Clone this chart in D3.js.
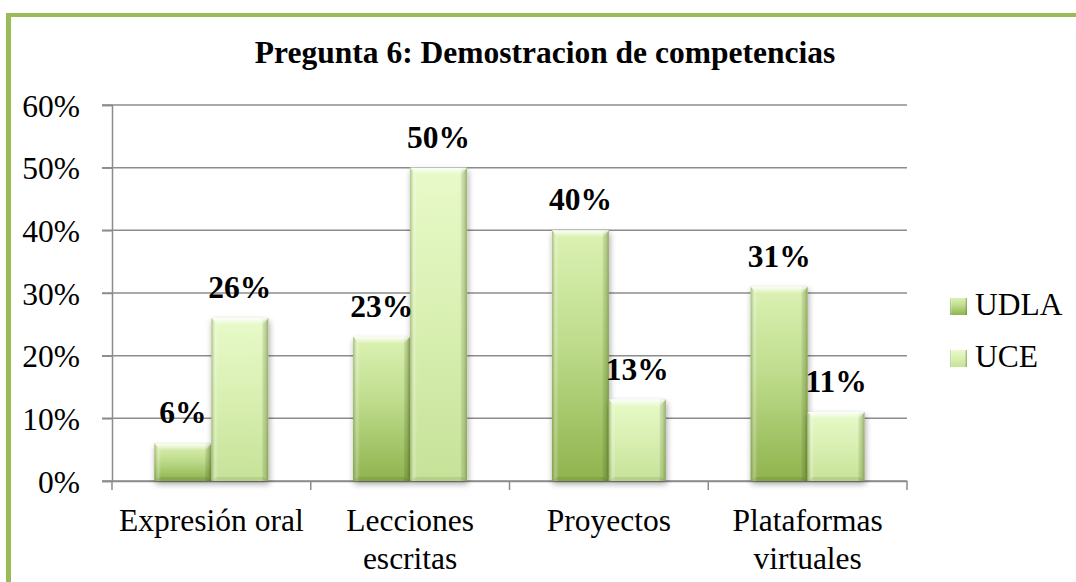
<!DOCTYPE html>
<html>
<head>
<meta charset="utf-8">
<script src="https://cdn.jsdelivr.net/npm/d3@7"></script>
<style>
  html, body { margin: 0; padding: 0; background: #fff; overflow: hidden; }
  svg { display: block; font-family: "Liberation Serif", "Times New Roman", serif; }
</style>
</head>
<body>
<svg id="chart" width="1076" height="582"></svg>
<script>
// data
const categories = ["Expresión oral", "Lecciones\nescritas", "Proyectos", "Plataformas\nvirtuales"];
const seriesNames = ["UDLA", "UCE"];
const udla = [0.06, 0.23, 0.40, 0.31];
const uce = [0.26, 0.50, 0.13, 0.11];
const yTicks = [0, 0.1, 0.2, 0.3, 0.4, 0.5, 0.6];
const title = "Pregunta 6: Demostracion de competencias";

const svg = d3.select("#chart");
const width = 1076;
const height = 582;
const plot = { left: 112, right: 907, top: 105, bottom: 481 };
const gridColor = "#8c8c8c";
const serif = "'Liberation Serif', 'Times New Roman', serif";
const fontSize = 31.5;

const defs = svg.append("defs");

function vGrad(id, stops) {
	const g = defs.append("linearGradient").attr("id", id)
		.attr("x1", 0).attr("y1", 0).attr("x2", 0).attr("y2", 1);
	stops.forEach(s => g.append("stop").attr("offset", s[0]).attr("stop-color", s[1]).attr("stop-opacity", s[2] == null ? 1 : s[2]));
}
function hGrad(id, stops) {
	const g = defs.append("linearGradient").attr("id", id)
		.attr("x1", 0).attr("y1", 0).attr("x2", 1).attr("y2", 0);
	stops.forEach(s => g.append("stop").attr("offset", s[0]).attr("stop-color", s[1]).attr("stop-opacity", s[2] == null ? 1 : s[2]));
}
vGrad("fillUDLA", [[0, "#dcf2b4"], [0.45, "#bedc8c"], [1, "#90b34d"]]);
vGrad("fillUCE", [[0, "#e8fac9"], [0.5, "#d8efb1"], [1, "#c6e298"]]);
hGrad("sides", [[0, "#5f7d2a", 0.45], [0.07, "#ffffff", 0.25], [0.12, "#ffffff", 0], [0.88, "#000000", 0], [0.94, "#55721f", 0.25], [1, "#4a6419", 0.5]]);
vGrad("topHi", [[0, "#ffffff", 0.9], [1, "#ffffff", 0]]);

const shadow = defs.append("filter").attr("id", "shadow")
	.attr("x", "-20%").attr("y", "-10%").attr("width", "140%").attr("height", "130%");
shadow.append("feGaussianBlur").attr("in", "SourceAlpha").attr("stdDeviation", 3);
shadow.append("feOffset").attr("dx", 1).attr("dy", 3).attr("result", "b");
shadow.append("feComponentTransfer").append("feFuncA").attr("type", "linear").attr("slope", 0.35);
const merge = shadow.append("feMerge");
merge.append("feMergeNode");
merge.append("feMergeNode").attr("in", "SourceGraphic");

// frame (only top and left edges are inside the picture)
svg.append("rect").attr("x", 6).attr("y", 13).attr("width", width).attr("height", 4)
	.attr("fill", "#9bbb59");
svg.append("rect").attr("x", 6).attr("y", 13).attr("width", 5).attr("height", height)
	.attr("fill", "#9bbb59");

svg.append("text")
	.attr("x", 545).attr("y", 63)
	.attr("text-anchor", "middle")
	.attr("font-family", serif)
	.attr("font-size", fontSize).attr("font-weight", "bold")
	.text(title);

const x = d3.scaleBand().domain(categories).range([plot.left, plot.right]).paddingInner(0).paddingOuter(0);
const x1 = d3.scaleBand().domain(seriesNames).range([0, x.bandwidth()]).paddingInner(0).paddingOuter(0.744);
const y = d3.scaleLinear().domain([0, 0.6]).range([plot.bottom, plot.top]);

// gridlines
svg.append("g").selectAll("line").data(yTicks).join("line")
	.attr("x1", plot.left - 10).attr("x2", plot.right)
	.attr("y1", d => y(d)).attr("y2", d => y(d))
	.attr("stroke", gridColor).attr("stroke-width", 1.5);

// y axis
const yAxis = svg.append("g").attr("transform", `translate(${plot.left},0)`)
	.call(d3.axisLeft(y).tickValues(yTicks).tickFormat(d3.format(".0%")).tickSize(10).tickPadding(22));
yAxis.attr("font-family", serif);
yAxis.select(".domain").attr("stroke", gridColor).attr("stroke-width", 1.5);
yAxis.selectAll(".tick line").attr("stroke", gridColor).attr("stroke-width", 1.5);
yAxis.selectAll(".tick text").attr("font-size", fontSize).attr("font-family", serif)
	.attr("fill", "#000").attr("dy", "0.35em");

// x axis
const xAxis = svg.append("g").attr("transform", `translate(0,${plot.bottom})`)
	.call(d3.axisBottom(x).tickSize(0).tickFormat(""));
xAxis.select(".domain").attr("stroke", gridColor).attr("stroke-width", 1.5);
xAxis.append("g").selectAll("line").data(d3.range(categories.length + 1)).join("line")
	.attr("x1", i => plot.left + i * x.step()).attr("x2", i => plot.left + i * x.step())
	.attr("y1", 0).attr("y2", 9)
	.attr("stroke", gridColor).attr("stroke-width", 1.5);

const catLabels = svg.append("g").selectAll("text").data(categories).join("text")
	.attr("x", d => x(d) + x.bandwidth() / 2)
	.attr("y", plot.bottom + 50)
	.attr("text-anchor", "middle")
	.attr("font-family", serif)
	.attr("font-size", fontSize);
catLabels.each(function (d) {
	const t = d3.select(this);
	d.split("\n").forEach((line, i) => {
		t.append("tspan").attr("x", x(d) + x.bandwidth() / 2).attr("dy", i === 0 ? 0 : 38).text(line);
	});
});

// bars
const values = { UDLA: udla, UCE: uce };
const rows = [];
categories.forEach((c, i) => seriesNames.forEach(s => rows.push({ cat: c, series: s, value: values[s][i] })));

const bars = svg.append("g").selectAll("g").data(rows).join("g")
	.attr("transform", d => `translate(${x(d.cat) + x1(d.series)},${y(d.value)})`);
bars.append("rect")
	.attr("width", x1.bandwidth()).attr("height", d => y(0) - y(d.value))
	.attr("fill", d => `url(#fill${d.series})`)
	.attr("filter", "url(#shadow)");
bars.append("rect")
	.attr("width", x1.bandwidth()).attr("height", d => y(0) - y(d.value))
	.attr("fill", "url(#sides)");
bars.append("path")
	.attr("d", d => {
		const w = x1.bandwidth();
		return `M0,0 L${w},0 L${w - 6},7 L6,7 Z`;
	})
	.attr("fill", "url(#topHi)");
bars.append("path")
	.attr("d", d => {
		const w = x1.bandwidth(), h = y(0) - y(d.value);
		return `M0,${h} L${w},${h} L${w - 5},${h - 4} L5,${h - 4} Z`;
	})
	.attr("fill", "#000").attr("fill-opacity", 0.08);

// value labels
svg.append("g").selectAll("text").data(rows).join("text")
	.attr("x", d => x(d.cat) + x1(d.series) + x1.bandwidth() / 2)
	.attr("y", d => y(d.value) - 20)
	.attr("text-anchor", "middle")
	.attr("font-family", serif)
	.attr("font-size", fontSize).attr("font-weight", "bold")
	.text(d => d3.format(".0%")(d.value));

// legend
const legend = svg.append("g").selectAll("g").data(seriesNames).join("g")
	.attr("transform", (d, i) => `translate(950,${298 + i * 52})`);
legend.append("rect").attr("width", 17).attr("height", 17)
	.attr("fill", d => `url(#fill${d})`);
legend.append("rect").attr("width", 17).attr("height", 17).attr("fill", "url(#sides)");
legend.append("text").attr("x", 25).attr("y", 17)
	.attr("font-family", serif)
	.attr("font-size", fontSize)
	.text(d => d);
</script>
</body>
</html>
